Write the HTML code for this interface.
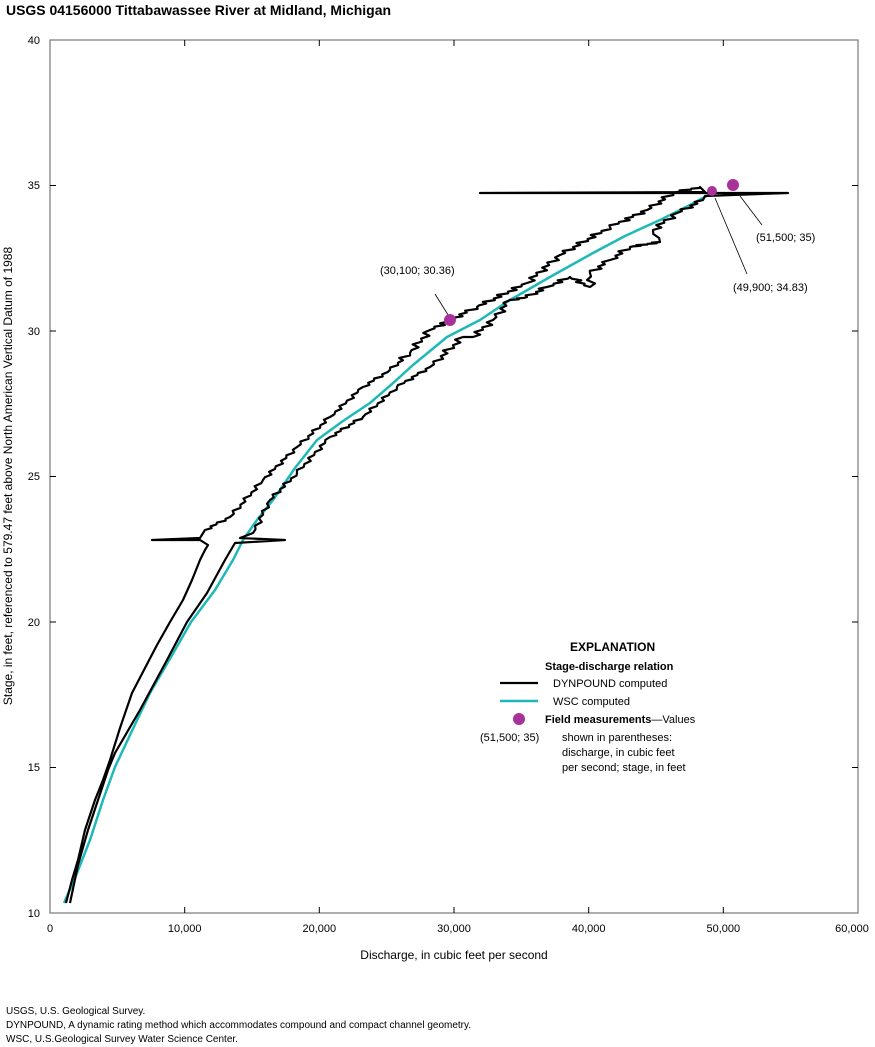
<!DOCTYPE html>
<html><head><meta charset="utf-8"><style>
body{margin:0;background:#fff;}
svg{display:block;font-family:"Liberation Sans",sans-serif;}
</style></head><body>
<svg width="875" height="1047" viewBox="0 0 875 1047">
<text x="6" y="15" font-size="14" font-weight="bold" textLength="385" lengthAdjust="spacingAndGlyphs">USGS 04156000 Tittabawassee River at Midland, Michigan</text>
<rect x="50" y="40" width="808" height="873" fill="none" stroke="#777" stroke-width="1.2"/>
<g stroke="#000" stroke-width="1">
<line x1="184.7" y1="40" x2="184.7" y2="46"/><line x1="319.3" y1="40" x2="319.3" y2="46"/><line x1="454" y1="40" x2="454" y2="46"/><line x1="588.7" y1="40" x2="588.7" y2="46"/><line x1="723.3" y1="40" x2="723.3" y2="46"/>
<line x1="184.7" y1="913" x2="184.7" y2="907"/><line x1="319.3" y1="913" x2="319.3" y2="907"/><line x1="454" y1="913" x2="454" y2="907"/><line x1="588.7" y1="913" x2="588.7" y2="907"/><line x1="723.3" y1="913" x2="723.3" y2="907"/>
<line x1="50" y1="185.5" x2="56" y2="185.5"/><line x1="50" y1="331" x2="56" y2="331"/><line x1="50" y1="476.5" x2="56" y2="476.5"/><line x1="50" y1="622" x2="56" y2="622"/><line x1="50" y1="767.5" x2="56" y2="767.5"/>
<line x1="858" y1="185.5" x2="852" y2="185.5"/><line x1="858" y1="331" x2="852" y2="331"/><line x1="858" y1="476.5" x2="852" y2="476.5"/><line x1="858" y1="622" x2="852" y2="622"/><line x1="858" y1="767.5" x2="852" y2="767.5"/>
</g>
<g font-size="11" text-anchor="end">
<text x="40" y="44">40</text><text x="40" y="189">35</text><text x="40" y="335">30</text><text x="40" y="480">25</text><text x="40" y="626">20</text><text x="40" y="771">15</text><text x="40" y="917">10</text>
</g>
<g font-size="11" text-anchor="middle">
<text x="50" y="932">0</text><text x="184.7" y="932">10,000</text><text x="319.3" y="932">20,000</text><text x="454" y="932">30,000</text><text x="588.7" y="932">40,000</text><text x="723.3" y="932">50,000</text><text x="852" y="932">60,000</text>
</g>
<text x="454" y="959" font-size="12" text-anchor="middle">Discharge, in cubic feet per second</text>
<text transform="translate(12,476) rotate(-90)" font-size="12" text-anchor="middle">Stage, in feet, referenced to 579.47 feet above North American Vertical Datum of 1988</text>
<polyline points="64,903 75,878 90,840 103,800 115,767 130,735 150,693 175,650 191,622 215,590 233,560 243,540 257,520 273,500 295,468 317,440 343,421 370,403 392,384 413,365 430,351 447,337 480,320 510,300 550,277 593,253 625,236 660,220 690,205 712,193" fill="none" stroke="#1fb8b8" stroke-width="2.5" stroke-linejoin="round"/>
<path id="dyn" d="" fill="none" stroke="#000" stroke-width="2.2" stroke-linejoin="round"/>
<line x1="450" y1="318" x2="435" y2="294" stroke="#000" stroke-width="0.8"/>
<line x1="740" y1="196" x2="762" y2="225" stroke="#000" stroke-width="0.8"/>
<line x1="715" y1="198" x2="747" y2="274" stroke="#000" stroke-width="0.8"/>
<circle cx="712" cy="191" r="5" fill="#a8329a"/>
<circle cx="450" cy="320" r="6" fill="#a8329a"/>
<circle cx="733" cy="185" r="6" fill="#a8329a"/>
<g font-size="11">
<text x="380" y="274">(30,100; 30.36)</text>
<text x="756" y="241">(51,500; 35)</text>
<text x="733" y="291">(49,900; 34.83)</text>
</g>
<g font-size="12">
<text x="570" y="651" font-weight="bold">EXPLANATION</text>
<text x="545" y="670" font-size="11" font-weight="bold">Stage-discharge relation</text>
<line x1="500" y1="683" x2="538" y2="683" stroke="#000" stroke-width="2.2"/>
<text x="553" y="687" font-size="11">DYNPOUND computed</text>
<line x1="500" y1="701" x2="538" y2="701" stroke="#1fb8b8" stroke-width="2.5"/>
<text x="553" y="705" font-size="11">WSC computed</text>
<circle cx="519" cy="719" r="6" fill="#a8329a"/>
<text x="545" y="723" font-size="11"><tspan font-weight="bold">Field measurements</tspan>—Values</text>
<text x="480" y="741" font-size="11">(51,500; 35)</text>
<text x="562" y="741" font-size="11">shown in parentheses:</text>
<text x="562" y="756" font-size="11">discharge, in cubic feet</text>
<text x="562" y="771" font-size="11">per second; stage, in feet</text>
</g>
<g font-size="10">
<text x="6" y="1014">USGS, U.S. Geological Survey.</text>
<text x="6" y="1028">DYNPOUND, A dynamic rating method which accommodates compound and compact channel geometry.</text>
<text x="6" y="1042">WSC, U.S.Geological Survey Water Science Center.</text>
</g>
</svg>
<script>
(function(){
var segs=[
 [[66,903],[72,880],[78,860],[85,830],[95,800],[103,780],[110,760],[120,728],[132,693],[145,668],[157,645],[170,622],[183,600],[192,580],[200,560],[205,550],[208,545]],
 [[208,545],[200,540],[152,540],[200,538],[205,530]],
 [[205,530],[230,517],[263,480],[297,447],[330,417],[363,387],[390,370],[410,353],[430,330],[450,320],[477,307],[527,283],[560,255],[610,227],[647,210],[673,193],[700,187]],
 [[700,187],[705,192],[480,193],[788,193],[705,196],[703,200]],
 [[703,200],[677,213],[653,230],[660,242],[630,247],[610,260],[590,273],[590,287],[570,277],[547,287],[527,297],[510,300],[493,320],[473,337],[463,337],[430,367],[397,387],[363,417],[330,437],[297,473],[270,500],[253,533]],
 [[253,533],[240,538],[285,540],[235,543],[225,560]],
 [[225,560],[207,593],[187,622],[167,660],[140,710],[115,753],[108,770],[98,800],[88,830],[78,865],[70,903]]
];
var d="",first=true,k=0;
segs.forEach(function(s,i){
 var jag=(i==2||i==4);
 for(var j=0;j<s.length-1;j++){
  var a=s[j],b=s[j+1];
  if(first){d+="M"+a[0]+","+a[1];first=false;}
  if(!jag){d+=" L"+b[0]+","+b[1];continue;}
  var L=Math.hypot(b[0]-a[0],b[1]-a[1]),n=Math.max(1,Math.round(L/4));
  for(var t=1;t<=n;t++){
   var x=a[0]+(b[0]-a[0])*t/n,y=a[1]+(b[1]-a[1])*t/n;
   var amp=y<360?5:3;
   if(t<n){k++;x+=(k%2?amp:-amp)*(0.6+0.4*Math.sin(k*1.7));}
   d+=" L"+x.toFixed(1)+","+y.toFixed(1);
  }
 }
});
document.getElementById("dyn").setAttribute("d",d);
})();
</script>
</body></html>
